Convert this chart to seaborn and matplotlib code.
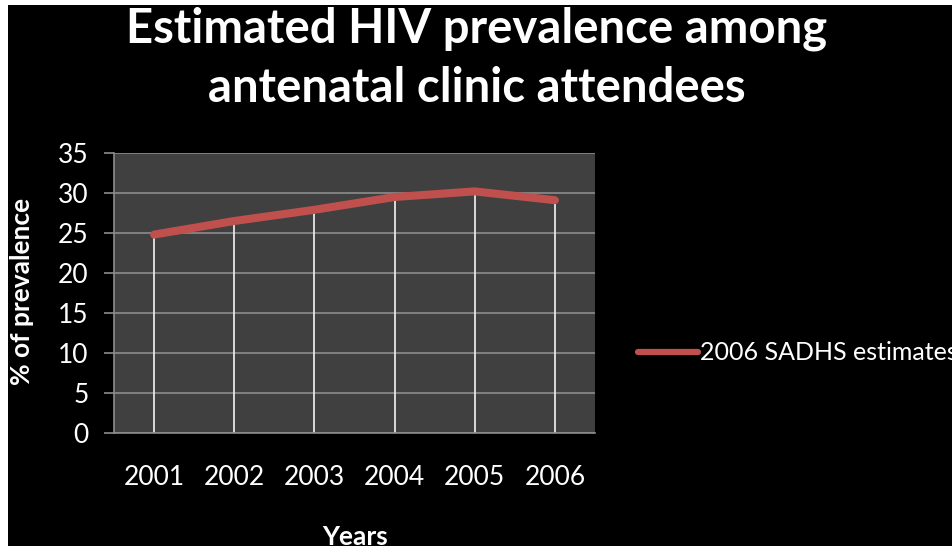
import matplotlib
matplotlib.use("Agg")
import matplotlib.pyplot as plt
import seaborn as sns
import pandas as pd
from matplotlib.patches import Rectangle

# Chart data
years = ["2001", "2002", "2003", "2004", "2005", "2006"]
prevalence = [24.8, 26.5, 27.9, 29.5, 30.2, 29.1]
series_name = "2006 SADHS estimates"

title_lines = ["Estimated HIV prevalence among", "antenatal clinic attendees"]
y_ticks = [0, 5, 10, 15, 20, 25, 30, 35]

sns.set_theme(style="dark")
plt.rcParams["font.family"] = ["Lato", "DejaVu Sans"]

W, H, DPI = 953, 546, 100
fig = plt.figure(figsize=(W / DPI, H / DPI), dpi=DPI, facecolor="white")

# black slide background with thin white margin on the left and top
fig.patches.append(Rectangle((8 / W, 0), 1 - 8 / W, 1 - 5 / H,
                             transform=fig.transFigure, facecolor="black",
                             edgecolor="none", zorder=-10))

ax = fig.add_axes([114 / W, 113 / H, (595 - 114) / W, (433 - 153) / H])
ax.set_facecolor("#404040")

df = pd.DataFrame({"Year": years, "Prevalence": prevalence})
xpos = list(range(len(years)))

# drop lines from each point to the axis
ax.vlines(xpos, 0, df["Prevalence"], colors="#e6e6e6", linewidth=1.3, zorder=2)

sns.lineplot(data=df, x="Year", y="Prevalence", ax=ax, color="#C0504D",
             linewidth=5.8, label=series_name, zorder=3,
             solid_capstyle="round", solid_joinstyle="round")

ax.set_xlim(-0.5, len(years) - 0.5)
ax.set_ylim(0, 35)
ax.set_yticks(y_ticks)
ax.grid(axis="y", color="#8c8c8c", linewidth=1.2)
ax.grid(axis="x", visible=False)
ax.set_axisbelow(True)

for side in ["top", "right"]:
    ax.spines[side].set_visible(False)
for side in ["left", "bottom"]:
    ax.spines[side].set_visible(True)
    ax.spines[side].set_color("#8c8c8c")
    ax.spines[side].set_linewidth(1.2)

ax.tick_params(axis="y", which="major", direction="out", length=7.2, width=1.2,
               color="#8c8c8c", pad=11, labelsize=19, labelcolor="white", left=True)
ax.tick_params(axis="x", which="major", length=0, pad=23, labelsize=19,
               labelcolor="white")

ax.set_xlabel("")
ax.set_ylabel("")
fig.text(22 / W, 1 - 291 / H, "% of prevalence", rotation=90, color="white",
         fontsize=19, fontweight="bold", ha="center", va="center")
fig.text(355 / W, 1 - 537 / H, "Years", color="white", fontsize=19,
         fontweight="bold", ha="center", va="center")

fig.text(477 / W, 1 - 29 / H, title_lines[0], color="white", fontsize=34,
         fontweight="bold", ha="center", va="center")
fig.text(477 / W, 1 - 88 / H, title_lines[1], color="white", fontsize=34,
         fontweight="bold", ha="center", va="center")

leg = ax.legend(loc="center left", bbox_to_anchor=(638 / W, 1 - 353 / H),
                bbox_transform=fig.transFigure, frameon=False, borderpad=0,
                borderaxespad=0, handlelength=2.4, handletextpad=0.1,
                fontsize=18)
for t in leg.get_texts():
    t.set_color("white")
for h in leg.get_lines():
    h.set_linewidth(4.5)
    h.set_solid_capstyle("round")

fig.savefig("out.png", dpi=DPI, facecolor=fig.get_facecolor())
